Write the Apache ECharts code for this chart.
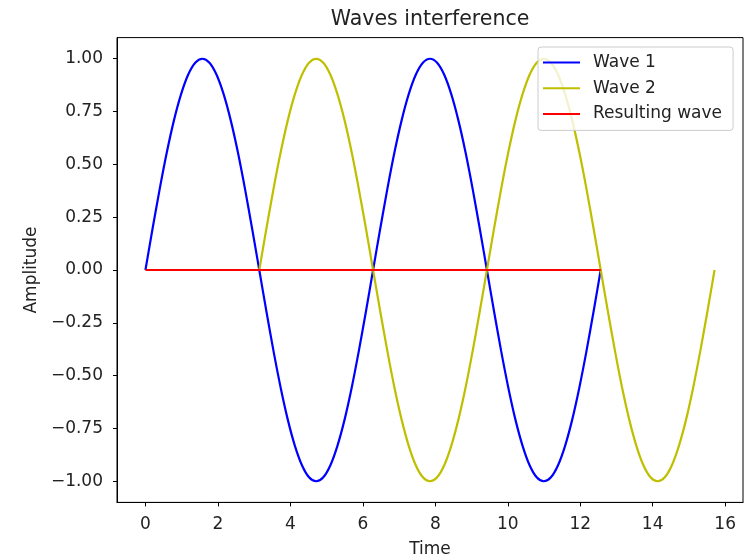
<!DOCTYPE html>
<html>
<head>
<meta charset="utf-8">
<script src="https://cdn.jsdelivr.net/npm/echarts@6/dist/echarts.min.js"></script>
<style>
  html, body { margin: 0; padding: 0; background: #fff; }
  #chart { width: 752px; height: 556px; }
</style>
</head>
<body>
<div id="chart"></div>
<script>
// time samples (step ~ pi/16), 0 .. 5*pi
const time = [
  0, 0.196, 0.393, 0.589, 0.785, 0.982, 1.178, 1.374, 1.571, 1.767, 1.963, 2.160, 2.356, 2.553, 2.749, 2.945,
  3.142, 3.338, 3.534, 3.731, 3.927, 4.123, 4.320, 4.516, 4.712, 4.909, 5.105, 5.301, 5.498, 5.694, 5.890, 6.087,
  6.283, 6.480, 6.676, 6.872, 7.069, 7.265, 7.461, 7.658, 7.854, 8.050, 8.247, 8.443, 8.639, 8.836, 9.032, 9.228,
  9.425, 9.621, 9.817, 10.014, 10.210, 10.407, 10.603, 10.799, 10.996, 11.192, 11.388, 11.585, 11.781, 11.977, 12.174, 12.370,
  12.566, 12.763, 12.959, 13.155, 13.352, 13.548, 13.744, 13.941, 14.137, 14.334, 14.530, 14.726, 14.923, 15.119, 15.315, 15.512,
  15.708
]

// Wave 1 spans time[0..64]
const wave1 = [
  0, 0.195, 0.383, 0.556, 0.707, 0.831, 0.924, 0.981, 1, 0.981, 0.924, 0.831, 0.707, 0.556, 0.383, 0.195,
  0, -0.195, -0.383, -0.556, -0.707, -0.831, -0.924, -0.981, -1, -0.981, -0.924, -0.831, -0.707, -0.556, -0.383, -0.195,
  0, 0.195, 0.383, 0.556, 0.707, 0.831, 0.924, 0.981, 1, 0.981, 0.924, 0.831, 0.707, 0.556, 0.383, 0.195,
  0, -0.195, -0.383, -0.556, -0.707, -0.831, -0.924, -0.981, -1, -0.981, -0.924, -0.831, -0.707, -0.556, -0.383, -0.195,
  0
]

// Wave 2 spans time[16..80]
const wave2 = [
  0, 0.195, 0.383, 0.556, 0.707, 0.831, 0.924, 0.981, 1, 0.981, 0.924, 0.831, 0.707, 0.556, 0.383, 0.195,
  0, -0.195, -0.383, -0.556, -0.707, -0.831, -0.924, -0.981, -1, -0.981, -0.924, -0.831, -0.707, -0.556, -0.383, -0.195,
  0, 0.195, 0.383, 0.556, 0.707, 0.831, 0.924, 0.981, 1, 0.981, 0.924, 0.831, 0.707, 0.556, 0.383, 0.195,
  0, -0.195, -0.383, -0.556, -0.707, -0.831, -0.924, -0.981, -1, -0.981, -0.924, -0.831, -0.707, -0.556, -0.383, -0.195,
  0
]

// Resulting wave spans time[0..64]
const resulting = [
  0, 0, 0, 0, 0, 0, 0, 0, 0, 0, 0, 0, 0, 0, 0, 0,
  0, 0, 0, 0, 0, 0, 0, 0, 0, 0, 0, 0, 0, 0, 0, 0,
  0, 0, 0, 0, 0, 0, 0, 0, 0, 0, 0, 0, 0, 0, 0, 0,
  0, 0, 0, 0, 0, 0, 0, 0, 0, 0, 0, 0, 0, 0, 0, 0,
  0
]

const xTicks = [0, 2, 4, 6, 8, 10, 12, 14, 16]
const yTicks = [-1, -0.75, -0.5, -0.25, 0, 0.25, 0.5, 0.75, 1]

const pairs = (ts, vs) => vs.map((v, i) => [ts[i], v])

const font = 'DejaVu Sans'
const txt = '#222'

const chart = echarts.init(document.getElementById('chart'), null, { renderer: 'canvas' })

chart.setOption({
  animation: false,
  backgroundColor: '#fff',
  title: {
    text: 'Waves interference',
    left: 430,
    top: 9,
    padding: 0,
    textAlign: 'center',
    textStyle: { fontFamily: font, fontSize: 20.5, fontWeight: 'normal', color: txt }
  },
  legend: {
    orient: 'vertical',
    left: 538,
    top: 47,
    padding: [7, 11, 8, 5],
    itemGap: 8.7,
    itemWidth: 37,
    itemHeight: 2,
    icon: 'rect',
    backgroundColor: 'rgba(255,255,255,0.8)',
    borderColor: '#ccc',
    borderWidth: 1,
    borderRadius: 3,
    textStyle: { fontFamily: font, fontSize: 17, lineHeight: 17, color: txt, padding: [0, 0, 0, 8] },
    data: ['Wave 1', 'Wave 2', 'Resulting wave']
  },
  grid: {
    left: 117,
    right: 9,
    top: 37.6,
    bottom: 53.6,
    show: true,
    borderColor: '#000',
    borderWidth: 1,
    containLabel: false,
    outerBoundsMode: 'none'
  },
  xAxis: {
    type: 'value',
    min: -0.785,
    max: 16.493,
    name: 'Time',
    nameLocation: 'middle',
    nameGap: 39,
    nameTextStyle: { fontFamily: font, fontSize: 17, color: txt },
    axisLine: { show: true, onZero: false, lineStyle: { color: '#000', width: 1 } },
    axisTick: { show: true, length: 4, customValues: xTicks, lineStyle: { color: '#000' } },
    axisLabel: { customValues: xTicks, margin: 14, fontFamily: font, fontSize: 17, color: txt },
    splitLine: { show: false }
  },
  yAxis: {
    type: 'value',
    min: -1.1,
    max: 1.1,
    name: 'Amplitude',
    nameLocation: 'middle',
    nameGap: 73,
    nameRotate: 90,
    nameTextStyle: { fontFamily: font, fontSize: 17, color: txt },
    axisLine: { show: true, onZero: false, lineStyle: { color: '#000', width: 1 } },
    axisTick: { show: true, length: 4, customValues: yTicks, lineStyle: { color: '#000' } },
    axisLabel: {
      customValues: yTicks,
      margin: 14,
      fontFamily: font,
      fontSize: 17,
      color: txt,
      formatter: v => v.toFixed(2).replace('-', '\u2212')
    },
    splitLine: { show: false }
  },
  series: [
    {
      name: 'Wave 1',
      type: 'line',
      data: pairs(time, wave1),
      showSymbol: false,
      smooth: 0.3,
      itemStyle: { color: '#0000ff' },
      lineStyle: { color: '#0000ff', width: 2.2 }
    },
    {
      name: 'Wave 2',
      type: 'line',
      data: pairs(time.slice(16), wave2),
      showSymbol: false,
      smooth: 0.3,
      itemStyle: { color: '#bfbf00' },
      lineStyle: { color: '#bfbf00', width: 2.2 }
    },
    {
      name: 'Resulting wave',
      type: 'line',
      data: pairs(time, resulting),
      showSymbol: false,
      itemStyle: { color: '#ff0000' },
      lineStyle: { color: '#ff0000', width: 2.2 }
    }
  ]
})
</script>
</body>
</html>
